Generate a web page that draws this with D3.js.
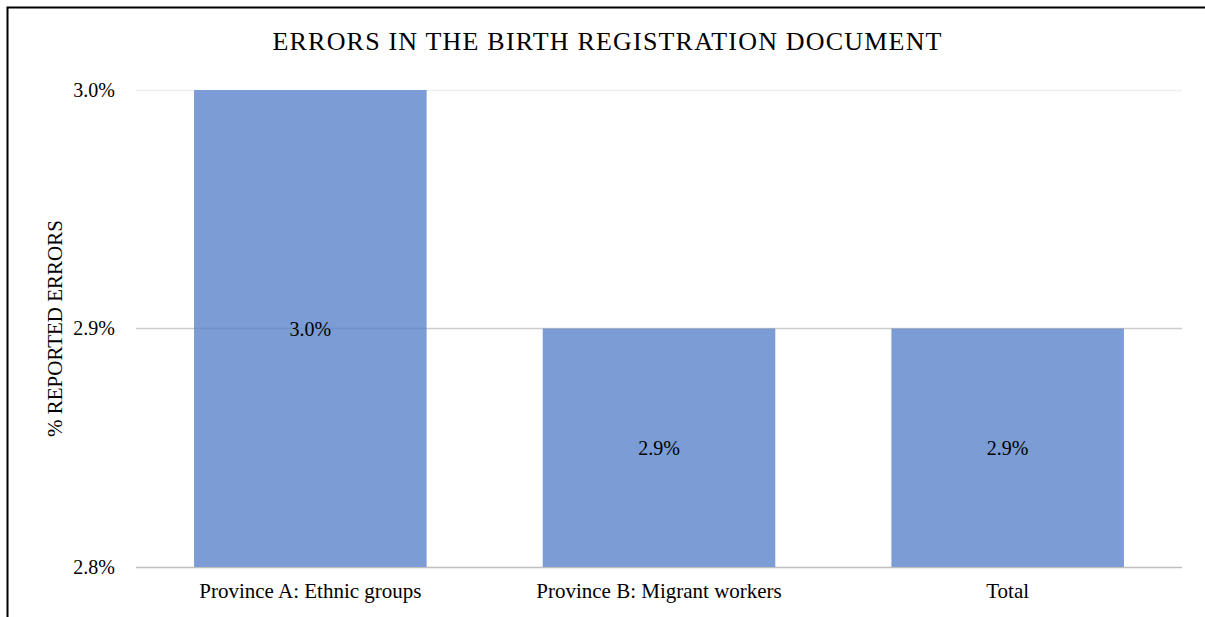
<!DOCTYPE html>
<html>
<head>
<meta charset="utf-8">
<script src="https://cdn.jsdelivr.net/npm/d3@7"></script>
<style>
  html, body { margin: 0; padding: 0; background: #fff; }
  svg { display: block; }
</style>
</head>
<body>
<svg id="chart" width="1205" height="617"></svg>
<script>
// Share of reported errors in the birth registration document
const categories = ["Province A: Ethnic groups", "Province B: Migrant workers", "Total"];
const values = [0.030, 0.029, 0.029];
const valueLabels = ["3.0%", "2.9%", "2.9%"];
const yTicks = [0.028, 0.029, 0.030];

const FONT = '"Liberation Serif", "Times New Roman", Times, serif';
const W = 1205, H = 617;
const margin = { top: 90, right: 23, bottom: 50, left: 136 };
const svg = d3.select("#chart");

// Outer frame
svg.append("path")
  .attr("d", `M7.5,${H + 2} V7.5 H${W + 2}`)
  .attr("fill", "none")
  .attr("stroke", "#000")
  .attr("stroke-width", 2);

const x = d3.scaleBand()
  .domain(categories)
  .range([margin.left, W - margin.right])
  .paddingInner(0.333)
  .paddingOuter(0.1665);

const y = d3.scaleLinear()
  .domain([0.028, 0.030])
  .range([H - margin.bottom, margin.top]);

// Title, lightly letter-spaced to span its slot
const title = svg.append("text")
  .attr("x", 607)
  .attr("y", 50)
  .attr("text-anchor", "middle")
  .style("font-family", FONT)
  .style("font-size", "26px")
  .attr("fill", "#000")
  .text("ERRORS IN THE BIRTH REGISTRATION DOCUMENT");
{
  const txt = title.text();
  const natural = title.node().getComputedTextLength();
  const spacing = Math.max(0, (669 - natural) / (txt.length - 1));
  title.style("letter-spacing", `${spacing}px`)
    .attr("x", 607 + spacing / 2);
}

// Gridlines
const gridColor = v => v === 0.028 ? "#bfbfbf" : (v === 0.030 ? "#efefef" : "#d9d9d9");
svg.append("g").selectAll("line")
  .data(yTicks)
  .join("line")
  .attr("x1", margin.left)
  .attr("x2", W - margin.right)
  .attr("y1", d => Math.round(y(d)) + 0.5)
  .attr("y2", d => Math.round(y(d)) + 0.5)
  .attr("stroke", d => gridColor(d))
  .attr("stroke-width", 1.5);

// Bars
svg.append("g").selectAll("rect")
  .data(values)
  .join("rect")
  .attr("x", (d, i) => x(categories[i]))
  .attr("width", x.bandwidth())
  .attr("y", d => y(d))
  .attr("height", d => y(0.028) - y(d))
  .attr("fill", "#7b9cd4");

// Gridline showing through bars
svg.append("g").selectAll("line")
  .data(yTicks.filter(v => v === 0.029))
  .join("line")
  .attr("x1", margin.left)
  .attr("x2", W - margin.right)
  .attr("y1", d => Math.round(y(d)) + 0.5)
  .attr("y2", d => Math.round(y(d)) + 0.5)
  .attr("stroke", "#000")
  .attr("stroke-opacity", 0.06)
  .attr("stroke-width", 1.5);

// Y axis tick labels
const yAxis = d3.axisLeft(y)
  .tickValues(yTicks)
  .tickFormat(d3.format(".1%"))
  .tickSize(0)
  .tickPadding(21);
const yg = svg.append("g")
  .attr("transform", `translate(${margin.left},0)`)
  .call(yAxis);
yg.attr("font-family", null).attr("font-size", null);
yg.select(".domain").remove();
yg.selectAll("text")
  .style("font-family", FONT)
  .style("font-size", "20px")
  .attr("fill", "#000");

// X axis category labels
const xAxis = d3.axisBottom(x).tickSize(0).tickPadding(16);
const xg = svg.append("g")
  .attr("transform", `translate(0,${H - margin.bottom})`)
  .call(xAxis);
xg.attr("font-family", null).attr("font-size", null);
xg.select(".domain").remove();
xg.selectAll("text")
  .style("font-family", FONT)
  .style("font-size", "21px")
  .attr("fill", "#000");

// Value labels centred in each bar
svg.append("g").selectAll("text")
  .data(values)
  .join("text")
  .attr("x", (d, i) => x(categories[i]) + x.bandwidth() / 2)
  .attr("y", d => (y(d) + y(0.028)) / 2)
  .attr("dy", "0.35em")
  .attr("text-anchor", "middle")
  .style("font-family", FONT)
  .style("font-size", "20px")
  .attr("fill", "#000")
  .text((d, i) => valueLabels[i]);

// Y axis title
svg.append("text")
  .attr("transform", `translate(62,${(margin.top + H - margin.bottom) / 2}) rotate(-90)`)
  .attr("text-anchor", "middle")
  .style("font-family", FONT)
  .style("font-size", "21px")
  .attr("fill", "#000")
  .text("% REPORTED ERRORS");
</script>
</body>
</html>
